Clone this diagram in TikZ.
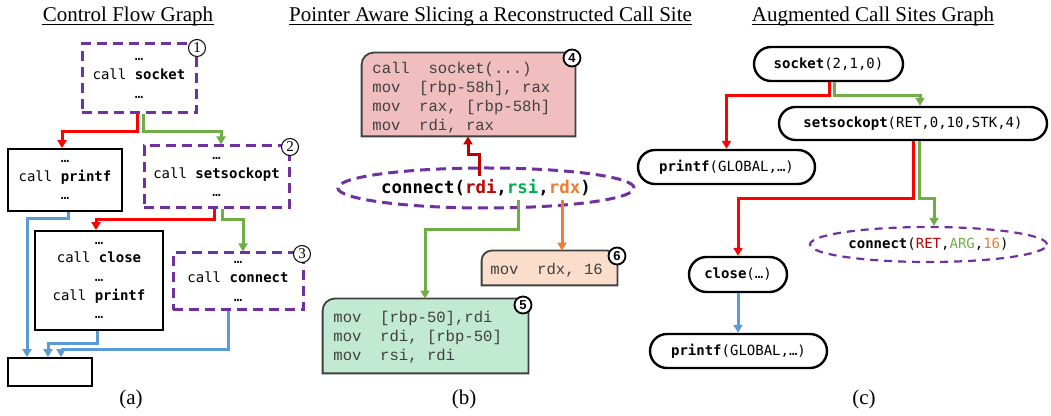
\documentclass[tikz,border=0pt]{standalone}
\usepackage{fontspec}
\setmainfont{Liberation Serif}
\newfontfamily\codef{DejaVu Sans Mono}
\newfontfamily\courf{Liberation Mono}
\newfontfamily\badgef{Liberation Sans}
\usetikzlibrary{arrows.meta,shapes.geometric,calc}
\definecolor{redA}{HTML}{FF0000}
\definecolor{greenA}{HTML}{70AD47}
\definecolor{blueA}{HTML}{5B9BD5}
\definecolor{purpA}{HTML}{7030A0}
\definecolor{redD}{HTML}{C00000}
\definecolor{orngA}{HTML}{ED7D31}
\definecolor{greenT}{HTML}{00B050}
\definecolor{pinkF}{HTML}{F0BEBE}
\definecolor{mintF}{HTML}{C2E9D2}
\definecolor{peachF}{HTML}{FADDCA}
\definecolor{grayT}{HTML}{404040}
\newcommand\topround[3]{%
  \draw[#2] (#1.south west) -- ($(#1.north west)+(0,#3)$)
    .. controls ($(#1.north west)+(0,{0.45*#3})$) and ($(#1.north west)+({0.45*#3},0)$) .. ($(#1.north west)+(#3,0)$)
    -- ($(#1.north east)+({-#3},0)$)
    .. controls ($(#1.north east)+({-0.45*#3},0)$) and ($(#1.north east)+(0,{0.45*#3})$) .. ($(#1.north east)+(0,#3)$)
    -- (#1.south east) -- cycle;}
\begin{document}
\begin{tikzpicture}[x=0.5pt,y=-0.5pt,
  ttl/.style={font=\fontsize{10.5}{12}\selectfont, inner sep=0, anchor=base},
  cfg/.style={font=\codef\fontsize{7}{9.3}\selectfont, align=center, inner sep=0},
  dashbox/.style={cfg, draw=purpA, line width=1.5pt, dash pattern=on 5pt off 3pt},
  solidbox/.style={cfg, draw=black, line width=0.9pt},
  arr/.style={line width=1.5pt, -{Triangle[width=4.5pt,length=4pt]}},
  badge/.style={circle, draw=black, fill=white, line width=0.5pt, minimum size=8.5pt, inner sep=0, font=\fontsize{7.5}{7.5}\selectfont},
  badgeb/.style={badge, line width=0.9pt, font=\badgef\bfseries\fontsize{6.5}{6.5}\selectfont},
  csg/.style={draw=black, line width=1.2pt, rounded corners=8.5pt, inner sep=0, font=\codef\fontsize{7}{8}\selectfont},
  asm/.style={font=\courf\fontsize{7.8}{9.5}\selectfont, text=grayT, align=left, inner sep=0, anchor=west},
  asmbox/.style={draw=grayT, line width=0.9pt},
  shapebox/.style={inner sep=0, rectangle}
]
\useasboundingbox (0,0) rectangle (1051,416);

% ---------- titles ----------
\node[ttl] (t1) at (128,22) {Control Flow Graph};
\node[ttl] (t2) at (490.5,22) {Pointer Aware Slicing a Reconstructed Call Site};
\node[ttl] (t3) at (873,22) {Augmented Call Sites Graph};
\foreach \t in {t1,t2,t3}{
  \draw[line width=0.5pt] ($(\t.base west)+(0,2.5)$) -- ($(\t.base east)+(0,2.5)$);}
\node[ttl] (la) at (131,405) {(a)};
\node[ttl] (lb) at (464,405) {(b)};
\node[ttl] (lc) at (864,405) {(c)};

% ---------- (a) control flow graph ----------
\node[dashbox, minimum width=57pt, minimum height=34.5pt] (a1) at (139,78.5) {…\\call \textbf{socket}\\…};
\node[solidbox, minimum width=57pt, minimum height=31pt] (a2) at (65,180) {…\\call \textbf{printf}\\…};
\node[dashbox, minimum width=72.5pt, minimum height=31pt] (a3) at (216.5,177) {…\\call \textbf{setsockopt}\\…};
\node[solidbox, minimum width=64pt, minimum height=49.5pt] (a4) at (99,280.5) {…\\call \textbf{close}\\…\\call \textbf{printf}\\…};
\node[dashbox, minimum width=65pt, minimum height=28.5pt] (a5) at (238,281.5) {…\\call \textbf{connect}\\…};
\node[solidbox, minimum width=42pt, minimum height=14pt] (a6) at (50,372) {};

\draw[arr, redA] (a1.south -| 137,0) |- (62,132) -- (a2.north -| 62,0);
\draw[arr, greenA] (a1.south -| 143,0) |- (221,132) -- (a3.north -| 221,0);
\draw[arr, redA] (a3.south -| 214,0) |- (96,220) -- (a4.north -| 96,0);
\draw[arr, greenA] (a3.south -| 222,0) |- (243,220) -- (a5.north -| 243,0);
\draw[arr, blueA] (a2.south -| 68,0) |- (27,219) -- (a6.north -| 27,0);
\draw[arr, blueA] (a4.south -| 97,0) |- (48,344) -- (a6.north -| 48,0);
\draw[arr, blueA] (a5.south -| 228,0) |- (61,350) -- (a6.north -| 61,0);

\node[badge] (n1) at (197,48) {1};
\node[badge] (n2) at (290,147) {2};
\node[badge] (n3) at (302,254) {3};

% ---------- (b) slicing ----------
\node[shapebox, minimum width=106.5pt, minimum height=41.5pt] (b4) at (468.5,94.5) {};
\topround{b4}{asmbox, fill=pinkF}{12}
\node[asm] (b4t) at (372,97.5) {call~~socket(...)\\mov~~[rbp-58h], rax\\mov~~rax, [rbp-58h]\\mov~~rdi, rax};

\node[shapebox, minimum width=102.5pt, minimum height=37pt] (b5) at (425.5,336) {};
\topround{b5}{asmbox, fill=mintF}{12}
\node[asm] (b5t) at (333,337) {mov~~[rbp-50],rdi\\mov~~rdi, [rbp-50]\\mov~~rsi, rdi};

\node[shapebox, minimum width=67.5pt, minimum height=17pt] (b6) at (549.5,268) {};
\topround{b6}{asmbox, fill=peachF}{10}
\node[asm] (b6t) at (490,270) {mov~~rdx, 16};

\node[ellipse, draw=purpA, line width=1.5pt, dash pattern=on 5pt off 3pt, minimum width=126pt, minimum height=20pt, inner sep=0,
  font=\codef\bfseries\fontsize{8.7}{10}\selectfont] (bc) at (486,188)
  {connect(\textcolor{redD}{rdi},\textcolor{greenT}{rsi},\textcolor{orngA}{rdx})};

\coordinate (bcr) at ($(bc.center)+(-7,-12)$);
\coordinate (bcg) at ($(bc.center)+(32,12)$);
\coordinate (bco) at ($(bc.center)+(76,12)$);
\draw[arr, redD] (bcr) |- (468,155) -- (b4.south -| 468,0);
\draw[arr, greenA] (bcg) |- (425,230) -- (b5.north -| 425,0);
\draw[arr, orngA] (bco) -- (b6.north -| bco);

\node[badgeb] (n4) at (572,58) {4};
\node[badgeb] (n5) at (523,305) {5};
\node[badgeb] (n6) at (617,256) {6};

% ---------- (c) augmented call sites graph ----------
\node[csg, minimum width=74.5pt, minimum height=17pt] (cs) at (828.5,64) {\textbf{socket}(2,1,0)};
\node[csg, minimum width=134pt, minimum height=16.5pt, rounded corners=8.25pt] (css) at (913,123.5) {\textbf{setsockopt}(RET,0,10,STK,4)};
\node[csg, minimum width=88.5pt, minimum height=17pt] (cp1) at (726.5,167) {\textbf{printf}(GLOBAL,…)};
\node[ellipse, draw=purpA, line width=1.1pt, dash pattern=on 4pt off 3pt, minimum width=118.5pt, minimum height=17.5pt, inner sep=0,
  font=\codef\fontsize{7}{8}\selectfont] (ccn) at (928.5,244.5)
  {\textbf{connect}(\textcolor{redD}{RET},\textcolor{greenA}{ARG},\textcolor{orngA}{16})};
\node[csg, minimum width=49pt, minimum height=17.5pt, rounded corners=8.75pt] (cc) at (738,274.5) {\textbf{close}(…)};
\node[csg, minimum width=88.5pt, minimum height=17pt] (cp2) at (738.5,351) {\textbf{printf}(GLOBAL,…)};

\draw[arr, redA] (cs.south -| 829,0) |- (cp1.north |- 0,96) -- (cp1.north);
\draw[arr, greenA] (cs.south -| 834,0) |- (920,96) -- (css.north -| 920,0);
\draw[arr, redA] (css.south -| 913,0) |- (cc.north |- 0,199) -- (cc.north);
\draw[arr, greenA] (css.south -| 919,0) |- (934,199) -- (ccn.north -| 934,0);
\draw[arr, blueA] (cc.south) -- (cc.south |- cp2.north);
\end{tikzpicture}
\end{document}
